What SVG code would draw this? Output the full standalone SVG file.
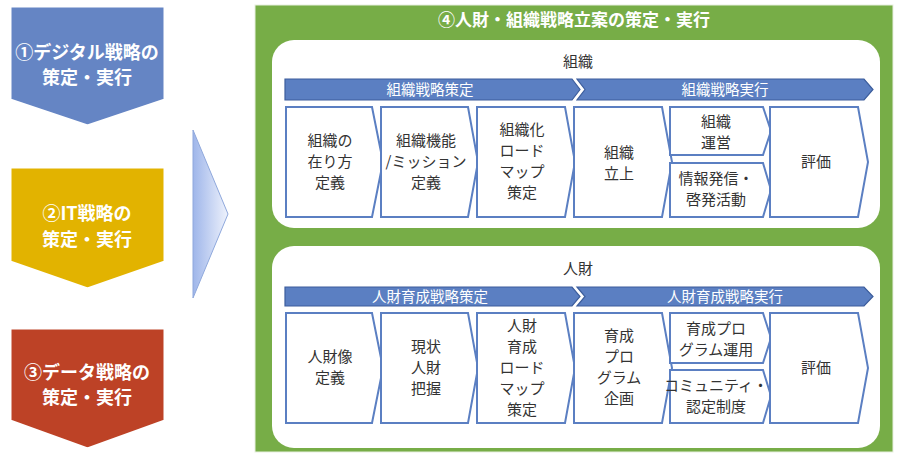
<svg xmlns="http://www.w3.org/2000/svg" width="900" height="458" viewBox="0 0 900 458">
<defs>
<linearGradient id="g" x1="0" x2="1"><stop offset="0" stop-color="#9fb6ea"/><stop offset="1" stop-color="#eef2fc"/></linearGradient>
<style>
text{font-family:"Noto Sans CJK JP","Noto Sans",sans-serif;text-anchor:middle}
.l{fill:#fff;font-weight:bold;font-size:18px}
.bar{fill:#5b7fc2;stroke:#3c5d9c;stroke-width:1.2}
.bt{fill:#fff;font-size:14.5px}
.bx{fill:#fff;stroke:#5b7fc2;stroke-width:2}
.t{fill:#333;font-size:15px}
.sh{stroke:#fff;stroke-width:3}
</style>
</defs>
<g id="left1"><path class="sh" d="M10 6H165V100L87.5 126L10 100Z" fill="#6585c4"/><text class="l" x="87" y="59">①デジタル戦略の</text><text class="l" x="87" y="84">策定・実行</text></g>
<g id="left2"><path class="sh" d="M10 167H165V262L87.5 289L10 262Z" fill="#e2b300"/><text class="l" x="87" y="220">②IT戦略の</text><text class="l" x="87" y="246">策定・実行</text></g>
<g id="left3"><path class="sh" d="M10 328H165V421L87.5 449L10 421Z" fill="#bd4226"/><text class="l" x="87" y="379">③データ戦略の</text><text class="l" x="87" y="404">策定・実行</text></g>
<g id="bigArrow"><path d="M193 130L228 214L193 298Z" fill="url(#g)" stroke="#8fa8dc"/></g>
<g id="panel">
<rect x="255" y="5" width="638" height="447" fill="#77ad47" stroke="#e8efe0"/>
<text x="574" y="26" fill="#fff" font-weight="bold" font-size="17">④人財・組織戦略立案の策定・実行</text>
<rect x="272" y="40" width="608" height="188" rx="22" fill="#fff"/>
<rect x="272" y="246" width="608" height="202" rx="22" fill="#fff"/>
</g>
<g id="org">
<text class="t" x="578" y="67">組織</text>
<path class="bar" d="M285 79H572L580 89.5L572 100H285Z"/>
<path class="bar" d="M577 79H864L873 89.5L864 100H577L585 89.5Z"/>
<text class="bt" x="430" y="95">組織戦略策定</text><text class="bt" x="725" y="95">組織戦略実行</text>
<path class="bx" d="M286 107H372L383 162L372 217H286Z"/>
<path class="bx" d="M381 107H468L478 162L468 217H381Z"/>
<path class="bx" d="M477 107H565L575 162L565 217H477Z"/>
<path class="bx" d="M574 107H662L672 162L662 217H574Z"/>
<path class="bx" d="M670 107H763L771 131L763 155H670Z"/>
<path class="bx" d="M670 163H763L771 190L763 217H670Z"/>
<path class="bx" d="M770 107H858L868 162L858 217H770Z"/>
<text class="t" x="330" y="146">組織の</text><text class="t" x="330" y="167">在り方</text><text class="t" x="330" y="188">定義</text>
<text class="t" x="426" y="146">組織機能</text><text class="t" x="426" y="167">/ミッション</text><text class="t" x="426" y="188">定義</text>
<text class="t" x="522" y="135">組織化</text><text class="t" x="522" y="156">ロード</text><text class="t" x="522" y="177">マップ</text><text class="t" x="522" y="198">策定</text>
<text class="t" x="619" y="158">組織</text><text class="t" x="619" y="179">立上</text>
<text class="t" x="716" y="127">組織</text><text class="t" x="716" y="148">運営</text>
<text class="t" x="716" y="184">情報発信・</text><text class="t" x="716" y="205">啓発活動</text>
<text class="t" x="816" y="167">評価</text>
</g>
<g id="hr">
<text class="t" x="578" y="274">人財</text>
<path class="bar" d="M285 287H572L580 296.5L572 306H285Z"/>
<path class="bar" d="M577 287H864L873 296.5L864 306H577L585 296.5Z"/>
<text class="bt" x="430" y="302">人財育成戦略策定</text><text class="bt" x="725" y="302">人財育成戦略実行</text>
<path class="bx" d="M286 313H372L383 368L372 423H286Z"/>
<path class="bx" d="M381 313H468L478 368L468 423H381Z"/>
<path class="bx" d="M477 313H565L575 368L565 423H477Z"/>
<path class="bx" d="M574 313H662L672 368L662 423H574Z"/>
<path class="bx" d="M670 313H763L771 338L763 363H670Z"/>
<path class="bx" d="M670 370H763L771 396L763 423H670Z"/>
<path class="bx" d="M770 313H858L868 368L858 423H770Z"/>
<text class="t" x="330" y="362">人財像</text><text class="t" x="330" y="383">定義</text>
<text class="t" x="426" y="352">現状</text><text class="t" x="426" y="373">人財</text><text class="t" x="426" y="394">把握</text>
<text class="t" x="522" y="331">人財</text><text class="t" x="522" y="352">育成</text><text class="t" x="522" y="373">ロード</text><text class="t" x="522" y="394">マップ</text><text class="t" x="522" y="415">策定</text>
<text class="t" x="619" y="341">育成</text><text class="t" x="619" y="362">プロ</text><text class="t" x="619" y="383">グラム</text><text class="t" x="619" y="404">企画</text>
<text class="t" x="716" y="334">育成プロ</text><text class="t" x="716" y="355">グラム運用</text>
<text class="t" x="716" y="391">コミュニティ・</text><text class="t" x="716" y="412">認定制度</text>
<text class="t" x="816" y="373">評価</text>
</g>
</svg>
